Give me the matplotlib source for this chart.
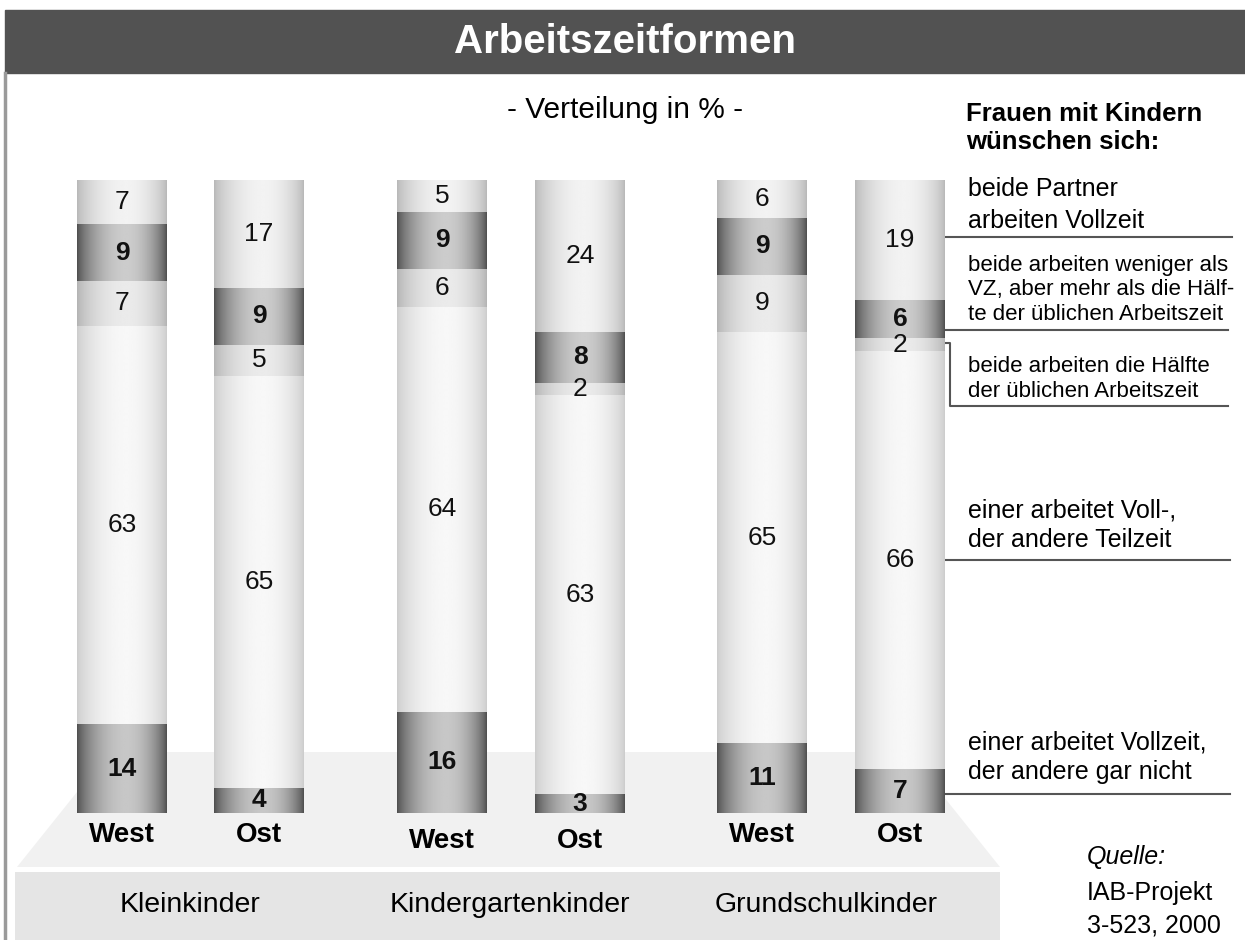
import numpy as np
import matplotlib
matplotlib.use('Agg')
import matplotlib.pyplot as plt
from matplotlib.patches import Rectangle, Polygon

plt.rcParams['font.family'] = ['Liberation Sans', 'DejaVu Sans']

# data: share in %, columns West/Ost per child age group
groups = ['Kleinkinder', 'Kindergartenkinder', 'Grundschulkinder']
regions = ['West', 'Ost', 'West', 'Ost', 'West', 'Ost']
# segments from bottom to top
gar_nicht = [14, 4, 16, 3, 11, 7]        # einer Vollzeit, der andere gar nicht
voll_teil = [63, 65, 64, 63, 65, 66]     # einer Voll-, der andere Teilzeit
haelfte = [7, 5, 6, 2, 9, 2]             # beide die Haelfte
weniger = [9, 9, 9, 8, 9, 6]             # beide weniger als VZ
beide_vz = [7, 17, 5, 24, 6, 19]         # beide Partner Vollzeit
series = [gar_nicht, voll_teil, haelfte, weniger, beide_vz]

# (edge brightness, peak brightness, bold label)
shades = [(0.30, 0.78, True), (0.80, 0.97, False), (0.70, 0.92, False),
          (0.30, 0.80, True), (0.72, 0.95, False)]

bar_x = [122, 259, 442, 580, 762, 900]
bar_w = 90
label_y = [835, 835, 841, 841, 835, 835]
W, H = 1245, 940

fig = plt.figure(figsize=(W / 100, H / 100), dpi=100)

# background layer in pixel coordinates
bg = fig.add_axes([0, 0, 1, 1])
bg.set_xlim(0, W)
bg.set_ylim(H, 0)
bg.axis('off')

bg.add_patch(Rectangle((5, 10), W - 5, 63, color='#525252', zorder=1))
bg.text(625, 42, 'Arbeitszeitformen', color='white', fontsize=29,
        fontweight='bold', ha='center', va='center')
bg.plot([5, 5], [73, H], color='#9a9a9a', lw=2.5)

bg.add_patch(Polygon([(109, 752), (908, 752), (1000, 867), (17, 867)],
                     closed=True, color='#f1f1f1', lw=0, zorder=1))
bg.add_patch(Rectangle((15, 872), 985, 68, color='#e5e5e5', lw=0, zorder=1))

bg.text(625, 110, '- Verteilung in % -', fontsize=21.5, ha='center', va='center')
bg.text(966, 128, 'Frauen mit Kindern\nwünschen sich:', fontsize=18.5,
        fontweight='bold', ha='left', va='center', linespacing=1.25)

for i, reg in enumerate(regions):
    bg.text(bar_x[i], label_y[i], reg, fontsize=20, fontweight='bold',
            ha='center', va='center', zorder=3)
for g, gx in zip(groups, [190, 510, 826]):
    bg.text(gx, 905, g, fontsize=20.5, ha='center', va='center', zorder=3)

bg.text(1087, 857, 'Quelle:', fontsize=18, style='italic', ha='left', va='center')
bg.text(1087, 893, 'IAB-Projekt', fontsize=18, ha='left', va='center')
bg.text(1087, 925, '3-523, 2000', fontsize=18, ha='left', va='center')

# legend texts and leader lines
lc = '#555555'
bg.text(968, 205, 'beide Partner\narbeiten Vollzeit', fontsize=18,
        ha='left', va='center', linespacing=1.4)
bg.plot([942, 1232], [237, 237], color=lc, lw=1.5)
bg.text(968, 290, 'beide arbeiten weniger als\nVZ, aber mehr als die Hälf-\nte der üblichen Arbeitszeit',
        fontsize=16, ha='left', va='center', linespacing=1.2)
bg.plot([942, 1228], [330, 330], color=lc, lw=1.5)
bg.text(968, 379, 'beide arbeiten die Hälfte\nder üblichen Arbeitszeit', fontsize=16,
        ha='left', va='center', linespacing=1.2)
bg.plot([945, 950, 950, 1228], [343, 343, 406, 406], color=lc, lw=1.5)
bg.text(968, 525, 'einer arbeitet Voll-,\nder andere Teilzeit', fontsize=18,
        ha='left', va='center', linespacing=1.3)
bg.plot([942, 1230], [560, 560], color=lc, lw=1.5)
bg.text(968, 757, 'einer arbeitet Vollzeit,\nder andere gar nicht', fontsize=18,
        ha='left', va='center', linespacing=1.3)
bg.plot([945, 1230], [794, 794], color=lc, lw=1.5)

# bars
ax = fig.add_axes([0, (H - 813) / H, 1, 633 / H])
ax.set_xlim(0, W)
ax.set_ylim(0, 100)
ax.axis('off')
ax.patch.set_alpha(0)

t = np.linspace(0, 1, 200)
tp = np.where(t < 0.55, t / 0.55 * 0.5, 0.5 + (t - 0.55) / 0.45 * 0.5)
profile = np.sin(np.pi * tp) ** 0.7

bottom = np.zeros(len(bar_x))
for vals, (edge, peak, bold) in zip(series, shades):
    vals = np.array(vals, dtype=float)
    bars = ax.bar(bar_x, vals, width=bar_w, bottom=bottom, color='none', lw=0)
    for b, v, x0, y0 in zip(bars, vals, bar_x, bottom):
        grad = (edge + (peak - edge) * profile)[None, :]
        im = ax.imshow(grad, cmap='gray', vmin=0, vmax=1, aspect='auto',
                       extent=(x0 - bar_w / 2, x0 + bar_w / 2, y0, y0 + v),
                       interpolation='bilinear', zorder=2)
        im.set_clip_path(b)
        ax.text(x0, y0 + v / 2, '%d' % v, fontsize=19, ha='center', va='center',
                fontweight='bold' if bold else 'normal', color='#111111', zorder=3)
    bottom = bottom + vals

ax.set_xlim(0, W)
ax.set_ylim(0, 100)

fig.savefig('out.png', dpi=100)
